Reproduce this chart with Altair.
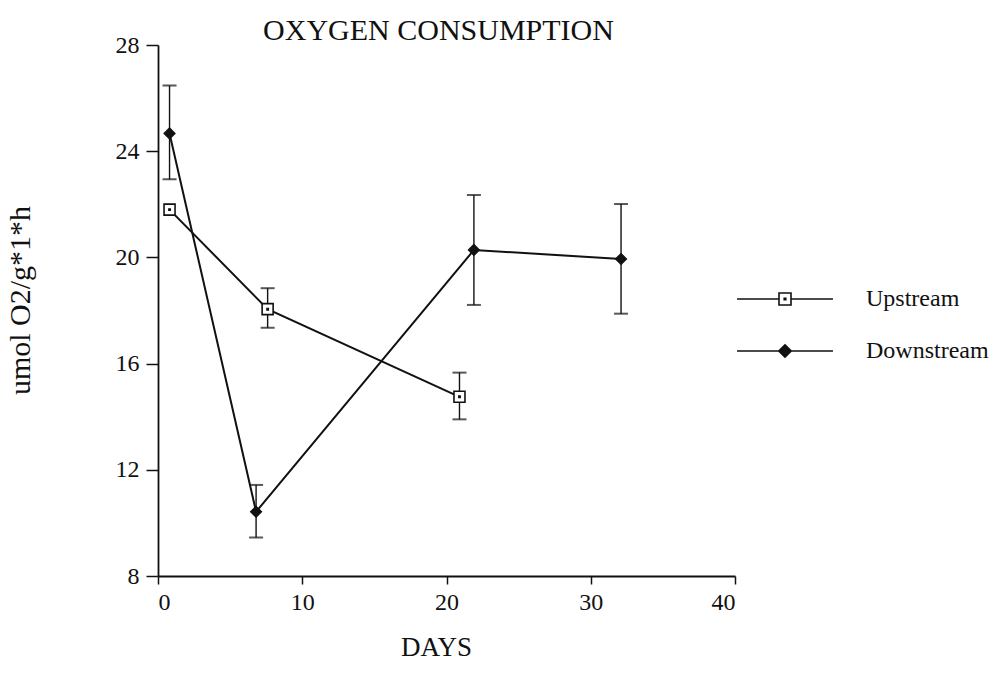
import altair as alt
import pandas as pd

# Oxygen consumption over time, two sampling sites (mean with error bars)
series_names = ["Upstream", "Downstream"]

up_days = [0.8, 7.6, 20.9]
up_mean = [21.8, 18.05, 14.75]
up_lo = [None, 17.35, 13.9]
up_hi = [None, 18.84, 15.66]

dn_days = [0.8, 6.8, 21.9, 32.1]
dn_mean = [24.67, 10.42, 20.28, 19.94]
dn_lo = [22.94, 9.45, 18.21, 17.88]
dn_hi = [26.47, 11.43, 22.35, 22.01]

x_ticks = [0, 10, 20, 30, 40]
y_ticks = [8, 12, 16, 20, 24, 28]

rows = []
for d, m, lo, hi in zip(up_days, up_mean, up_lo, up_hi):
    rows.append({"site": "Upstream", "day": d, "mean": m, "lo": lo, "hi": hi})
for d, m, lo, hi in zip(dn_days, dn_mean, dn_lo, dn_hi):
    rows.append({"site": "Downstream", "day": d, "mean": m, "lo": lo, "hi": hi})
df = pd.DataFrame(rows)

SERIF = "Liberation Serif"
INK = "#111111"

# marker shapes: open square with a centre dot, filled diamond
square_dot = "M-1,-1H1V1H-1ZM-0.12,-0.12H0.12V0.12H-0.12Z"
# legend keys: a line through the marker (paths extend past the unit box)
legend_up = ("M-1.23,0H-0.154M0.154,0H1.23"
             "M-0.154,-0.154H0.154V0.154H-0.154Z"
             "M-0.02,-0.02H0.02V0.02H-0.02Z")
legend_dn = "M-1.23,0H1.23M0,-0.16L0.16,0L0,0.16L-0.16,0Z"

x_scale = alt.Scale(domain=[0, 40], nice=False, zero=False)
y_scale = alt.Scale(domain=[8, 28], nice=False, zero=False)

x_enc = alt.X(
    "day:Q", scale=x_scale,
    axis=alt.Axis(values=x_ticks, title="DAYS", tickSize=8, labelPadding=6,
                  titlePadding=20, titleX=278, titleFontSize=27),
)
y_enc = alt.Y(
    "mean:Q", scale=y_scale,
    axis=alt.Axis(values=y_ticks, title="umol O2/g*1*h", tickSize=12,
                  labelPadding=7, titlePadding=80, titleY=255,
                  titleFontSize=30),
)

base = alt.Chart(df)

lines = base.mark_line(color=INK, strokeWidth=2).encode(
    x=x_enc, y=y_enc, detail="site:N", order="day:Q"
)

err_data = base.transform_filter("isValid(datum.lo)")
err_rules = err_data.mark_rule(color=INK, strokeWidth=1.4).encode(
    x="day:Q", y="lo:Q", y2="hi:Q"
)
caps_lo = err_data.mark_tick(color=INK, orient="horizontal", size=14,
                             thickness=2).encode(x="day:Q", y="lo:Q")
caps_hi = err_data.mark_tick(color=INK, orient="horizontal", size=14,
                             thickness=2).encode(x="day:Q", y="hi:Q")

up_points = base.transform_filter(alt.datum.site == "Upstream").mark_point(
    shape=square_dot, filled=True, fill="white", size=121, stroke=INK,
    strokeWidth=1.6, opacity=1,
).encode(x="day:Q", y="mean:Q")

dn_points = base.transform_filter(alt.datum.site == "Downstream").mark_point(
    shape="diamond", filled=True, fill=INK, size=121, stroke=INK,
    strokeWidth=1.2, opacity=1,
).encode(x="day:Q", y="mean:Q")

# key: a line through each marker, drawn by the legend from its own scales
key = base.transform_filter("false").mark_point(
    filled=True, strokeWidth=1.6
).encode(
    x="day:Q",
    y="mean:Q",
    shape=alt.Shape(
        "site:N",
        scale=alt.Scale(domain=series_names, range=[legend_up, legend_dn]),
        legend=alt.Legend(
            title=None, orient="none", legendX=587, legendY=214,
            symbolSize=6084, symbolStrokeWidth=1.6,
            symbolOpacity=1, labelFont=SERIF, labelFontSize=24,
            labelColor=INK, labelOffset=41, rowPadding=0, padding=0,
        ),
    ),
    fill=alt.Fill("site:N", scale=alt.Scale(domain=series_names,
                                            range=["white", INK])),
    stroke=alt.Stroke("site:N", scale=alt.Scale(domain=series_names,
                                                range=[INK, INK])),
)

chart = (
    alt.layer(lines, err_rules, caps_lo, caps_hi, up_points, dn_points, key)
    .properties(
        width=577,
        height=531,
        autosize=alt.AutoSizeParams(type="none"),
        padding={"left": 158, "top": 45, "right": 265, "bottom": 114},
        title=alt.TitleParams("OXYGEN CONSUMPTION", font=SERIF, fontSize=30,
                              fontWeight="normal", color=INK, offset=0,
                              dx=-8, dy=13, anchor="middle"),
    )
    .configure(background="white")
    .configure_view(stroke=None)
    .configure_axis(
        domainColor=INK, domainWidth=1.8, tickColor=INK, tickWidth=1.5,
        grid=False, labelFont=SERIF, labelFontSize=24, labelColor=INK,
        titleFont=SERIF, titleFontWeight="normal", titleColor=INK,
    )
)

chart.save("out.html", embed_options={"renderer": "svg", "actions": False})
